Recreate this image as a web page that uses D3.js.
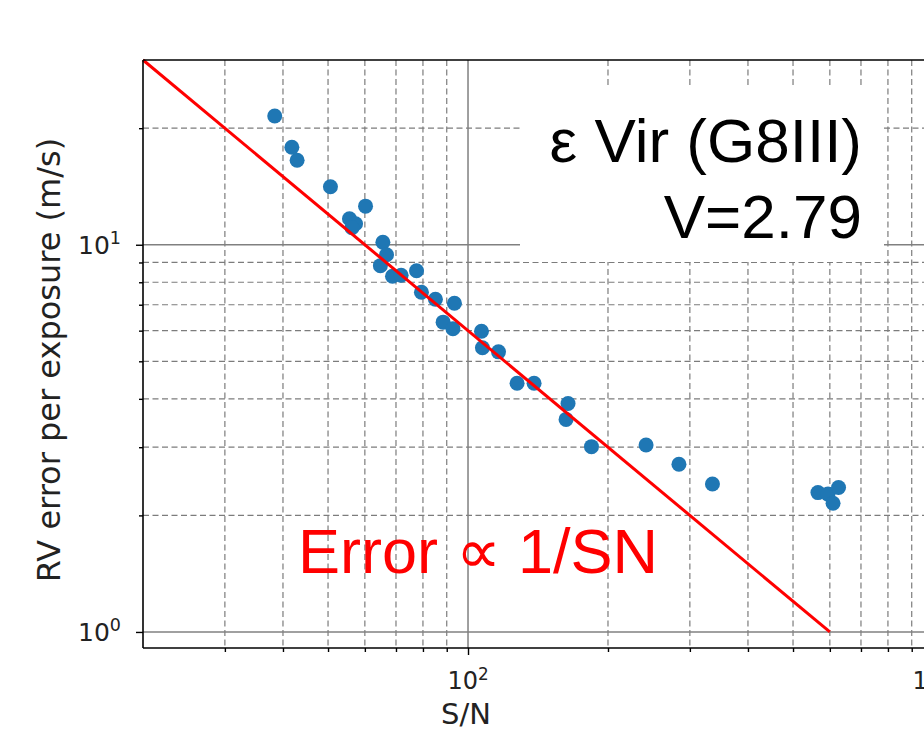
<!DOCTYPE html>
<html>
<head>
<meta charset="utf-8">
<script src="https://cdn.jsdelivr.net/npm/d3@7"></script>
<style>
  body { margin: 0; background: #fff; }
  svg { display: block; }
</style>
</head>
<body>
<div class="chart"></div>
<script>
// S/N and RV error per exposure (m/s)
const snValues = [38.4, 41.8, 42.9, 50.6, 60.2, 55.6, 57.3, 56.3, 65.6, 66.8,
  64.8, 68.8, 71.8, 77.5, 79.4, 85.1, 93.5, 88.4, 92.8, 106.9,
  107.4, 116.3, 127.5, 138.7, 164.1, 162.5, 184.3, 241.5, 284.2, 335.5,
  565.7, 594.6, 626.4, 609.6]
const rvErrors = [21.5, 17.86, 16.53, 14.12, 12.58, 11.67, 11.33, 11.06, 10.15, 9.42,
  8.83, 8.29, 8.34, 8.57, 7.54, 7.23, 7.06, 6.31, 6.07, 5.98,
  5.42, 5.29, 4.39, 4.39, 3.89, 3.54, 3.01, 3.04, 2.71, 2.41,
  2.29, 2.27, 2.36, 2.15]

// error ∝ 1/SN reference line
const fitSN = [20, 600]
const fitErr = [30, 1]

const xMajorTicks = [100, 1000]
const xMinorTicks = [30, 40, 50, 60, 70, 80, 90, 200, 300, 400, 500, 600, 700, 800, 900]
const yMajorTicks = [1, 10]
const yMinorTicks = [2, 3, 4, 5, 6, 7, 8, 9, 20]

const starName = 'ε Vir (G8III)'
const starMag = 'V=2.79'
const fitLabel = 'Error ∝ 1/SN'
const xTitle = 'S/N'
const yTitle = 'RV error per exposure (m/s)'

const width = 924
const height = 731
const plotLeft = 143
const plotTop = 60
const plotBottom = 648
const plotRight = 933

const x = d3.scaleLog().domain([20, 1000]).range([plotLeft, plotRight])
const y = d3.scaleLog().domain([0.909, 30]).range([plotBottom, plotTop])

const svg = d3.select('.chart')
  .append('svg')
  .attr('width', width)
  .attr('height', height)
  .attr('viewBox', [0, 0, width, height])
  .style('font-family', '"DejaVu Sans", sans-serif')

svg.append('rect').attr('width', width).attr('height', height).attr('fill', '#fff')

const grid = svg.append('g')

// minor grid, dashed
grid.selectAll('.vminor')
  .data(xMinorTicks)
  .enter()
  .append('line')
  .attr('x1', (d) => x(d)).attr('x2', (d) => x(d))
  .attr('y1', plotTop).attr('y2', plotBottom)
  .attr('stroke', '#7c7c7c')
  .attr('stroke-width', 1.2)
  .attr('stroke-dasharray', '6,3.5')

grid.selectAll('.hminor')
  .data(yMinorTicks)
  .enter()
  .append('line')
  .attr('x1', plotLeft).attr('x2', plotRight)
  .attr('y1', (d) => y(d)).attr('y2', (d) => y(d))
  .attr('stroke', '#7c7c7c')
  .attr('stroke-width', 1.2)
  .attr('stroke-dasharray', '6,3.5')

// major grid, solid
grid.selectAll('.vmajor')
  .data(xMajorTicks)
  .enter()
  .append('line')
  .attr('x1', (d) => x(d)).attr('x2', (d) => x(d))
  .attr('y1', plotTop).attr('y2', plotBottom)
  .attr('stroke', '#808080')
  .attr('stroke-width', 1.5)

grid.selectAll('.hmajor')
  .data(yMajorTicks)
  .enter()
  .append('line')
  .attr('x1', plotLeft).attr('x2', plotRight)
  .attr('y1', (d) => y(d)).attr('y2', (d) => y(d))
  .attr('stroke', '#808080')
  .attr('stroke-width', 1.5)

// scatter points
svg.append('g')
  .selectAll('circle')
  .data(snValues)
  .enter()
  .append('circle')
  .attr('cx', (d) => x(d))
  .attr('cy', (d, i) => y(rvErrors[i]))
  .attr('r', 7.5)
  .attr('fill', '#1f77b4')

// red 1/SN line
const line = d3.line()
  .x((d) => x(d[0]))
  .y((d) => y(d[1]))

svg.append('path')
  .datum(d3.zip(fitSN, fitErr))
  .attr('d', line)
  .attr('fill', 'none')
  .attr('stroke', '#ff0000')
  .attr('stroke-width', 3)

// spines
svg.append('line').attr('x1', plotLeft).attr('x2', plotLeft).attr('y1', plotTop).attr('y2', plotBottom)
  .attr('stroke', '#000').attr('stroke-width', 1.6)
svg.append('line').attr('x1', plotLeft).attr('x2', width + 10).attr('y1', plotBottom).attr('y2', plotBottom)
  .attr('stroke', '#000').attr('stroke-width', 1.6)
svg.append('line').attr('x1', plotLeft).attr('x2', width + 10).attr('y1', plotTop).attr('y2', plotTop)
  .attr('stroke', '#000').attr('stroke-width', 1.6)

// axes with log tick labels
function supLabel(sel, exp) {
  sel.text('10')
  sel.append('tspan')
    .attr('dy', '-0.55em')
    .attr('font-size', '0.7em')
    .text(exp)
}

const xAxis = d3.axisBottom(x).tickValues(xMajorTicks).tickSize(7).tickFormat('')
const xAxisMinor = d3.axisBottom(x).tickValues(xMinorTicks).tickSize(4).tickFormat('')
const yAxis = d3.axisLeft(y).tickValues(yMajorTicks).tickSize(7).tickFormat('')
const yAxisMinor = d3.axisLeft(y).tickValues(yMinorTicks).tickSize(4).tickFormat('')

for (const ax of [xAxis, xAxisMinor]) {
  svg.append('g').attr('transform', `translate(0,${plotBottom})`).call(ax)
    .call((g) => g.select('.domain').remove())
    .call((g) => g.selectAll('line').attr('stroke', '#000').attr('stroke-width', 1.4))
}
for (const ax of [yAxis, yAxisMinor]) {
  svg.append('g').attr('transform', `translate(${plotLeft},0)`).call(ax)
    .call((g) => g.select('.domain').remove())
    .call((g) => g.selectAll('line').attr('stroke', '#000').attr('stroke-width', 1.4))
}

svg.append('g')
  .selectAll('text')
  .data(xMajorTicks)
  .enter()
  .append('text')
  .attr('x', (d) => x(d))
  .attr('y', 689)
  .attr('text-anchor', 'middle')
  .attr('font-size', 24)
  .attr('fill', '#222')
  .each(function (d) { supLabel(d3.select(this), Math.round(Math.log10(d))) })

svg.append('g')
  .selectAll('text')
  .data(yMajorTicks)
  .enter()
  .append('text')
  .attr('x', 121)
  .attr('y', (d) => y(d) + 9)
  .attr('text-anchor', 'end')
  .attr('font-size', 25)
  .attr('fill', '#222')
  .each(function (d) { supLabel(d3.select(this), Math.round(Math.log10(d))) })

// axis titles
svg.append('text')
  .attr('x', 466)
  .attr('y', 724)
  .attr('text-anchor', 'middle')
  .attr('font-size', 29)
  .attr('fill', '#222')
  .text(xTitle)

svg.append('text')
  .attr('transform', `translate(60,${(plotTop + plotBottom) / 2 + 6}) rotate(-90)`)
  .attr('text-anchor', 'middle')
  .attr('font-size', 32)
  .attr('fill', '#222')
  .text(yTitle)

// annotation box
svg.append('rect')
  .attr('x', 520).attr('y', 87)
  .attr('width', 364).attr('height', 175)
  .attr('fill', '#fff')

const note = svg.append('g')
  .attr('font-family', '"Liberation Sans", Arial, sans-serif')
  .attr('font-size', 62)
  .attr('text-anchor', 'end')
  .attr('fill', '#000')
note.append('text').attr('x', 862).attr('y', 162).text(starName)
note.append('text').attr('x', 862).attr('y', 238).text(starMag)

svg.append('text')
  .attr('x', 298)
  .attr('y', 573)
  .attr('font-family', '"Liberation Sans", Arial, sans-serif')
  .attr('font-size', 63)
  .attr('fill', '#ff0000')
  .text(fitLabel)
</script>
</body>
</html>
